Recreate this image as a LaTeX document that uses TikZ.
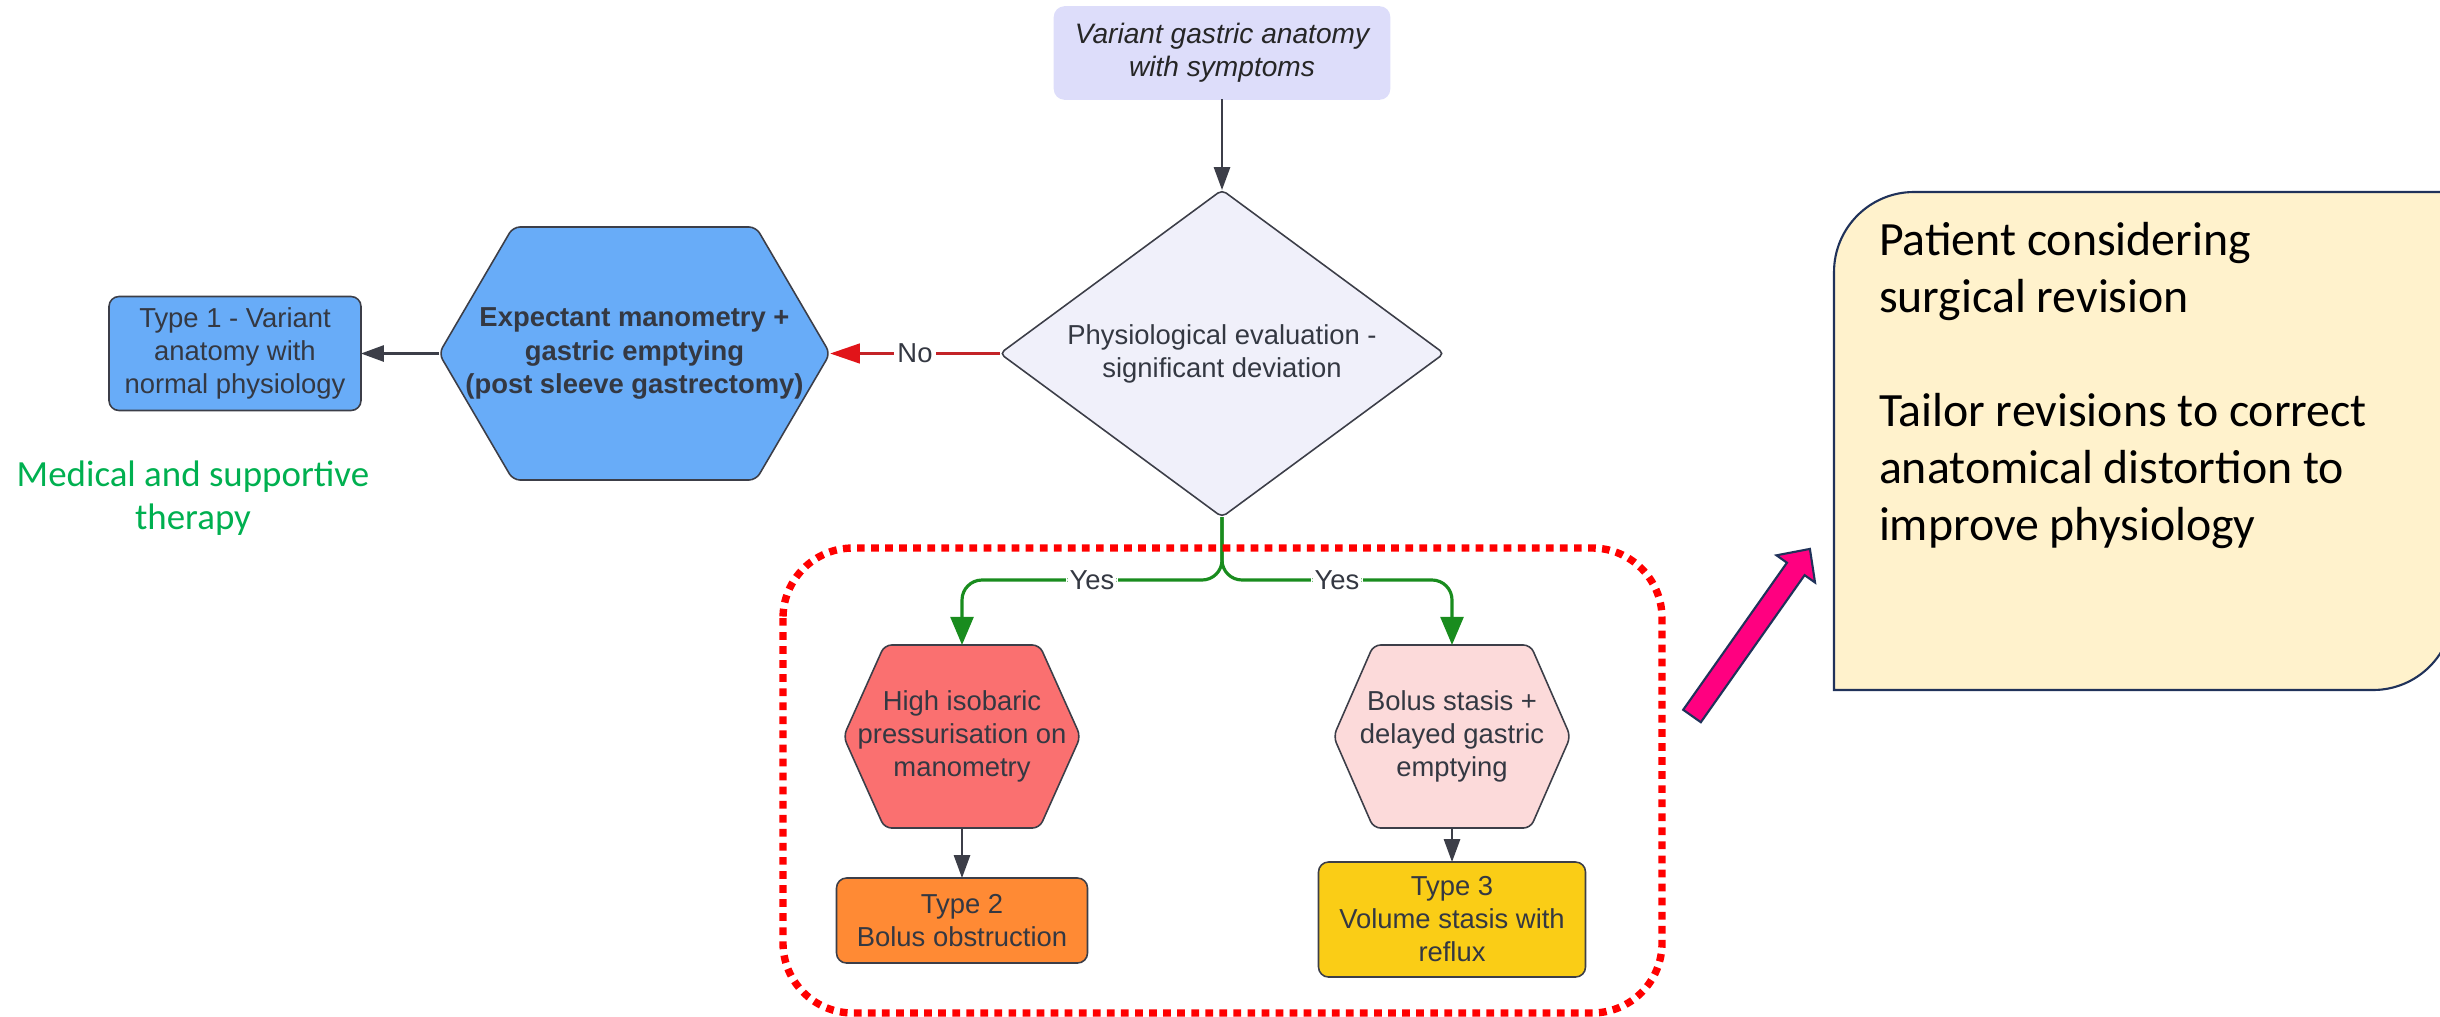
\documentclass[tikz,border=0pt]{standalone}
\usepackage{fontspec}
\setmainfont{Liberation Sans}
\newfontfamily\calibri{Carlito}
\usepackage{tikz}
\usetikzlibrary{arrows.meta, shapes.geometric, positioning, calc, backgrounds}

\definecolor{boxline}{RGB}{60,62,72}
\definecolor{txtgray}{RGB}{52,56,66}
\definecolor{startfill}{RGB}{221,221,250}
\definecolor{decfill}{RGB}{240,240,250}
\definecolor{bluefill}{RGB}{104,172,248}
\definecolor{redfill}{RGB}{250,112,112}
\definecolor{pinkfill}{RGB}{252,218,218}
\definecolor{orangefill}{RGB}{255,138,52}
\definecolor{yellowfill}{RGB}{250,205,22}
\definecolor{yesgreen}{RGB}{25,140,30}
\definecolor{nored}{RGB}{195,35,40}
\definecolor{notip}{RGB}{225,20,25}
\definecolor{therapygreen}{RGB}{0,176,80}
\definecolor{notefill}{RGB}{255,242,204}
\definecolor{noteline}{RGB}{32,50,90}
\definecolor{bigpink}{RGB}{255,0,128}

% hexagon drawn round a node: node, chamfer, fill
\newcommand{\hexshape}[3]{%
  \filldraw[fill=#3, draw=boxline, line width=0.45pt, rounded corners=2pt]
    (#1.west) -- ($(#1.north west)+(#2,0)$) -- ($(#1.north east)+(-#2,0)$) -- (#1.east)
    -- ($(#1.south east)+(-#2,0)$) -- ($(#1.south west)+(#2,0)$) -- cycle;}

\begin{document}
\begin{tikzpicture}[
    every node/.style={font=\fontsize{7.8}{9.4}\selectfont, text=txtgray, outer sep=0pt},
    flowbox/.style={draw=boxline, line width=0.45pt, rounded corners=0.1cm, align=center, inner sep=0pt},
    hexbox/.style={align=center, inner sep=0pt},
    decision/.style={diamond, aspect=1.36, draw=boxline, line width=0.45pt, rounded corners=0.05cm, fill=decfill, align=center, inner sep=0pt},
    darkarrow/.style={draw=boxline, line width=0.6pt, -{Triangle[length=6.5pt,width=4.6pt]}},
    yesarrow/.style={draw=yesgreen, line width=0.9pt, rounded corners=0.2cm, -{Triangle[length=8pt,width=6.5pt]}},
    noarrow/.style={draw=nored, line width=1pt, -{Triangle[length=8.5pt,width=5.5pt,color=notip]}},
    branchlabel/.style={fill=white, inner sep=1pt},
    groupframe/.style={draw=red, line width=2.1pt, dash pattern=on 2.2pt off 1.8pt, rounded corners=0.7cm},
  ]

            % Page frame
            \useasboundingbox (0,0) rectangle (24.4,-10.16);

            % Start box
            \node[flowbox, fill=startfill, draw=startfill, minimum width=3.35cm, minimum height=0.92cm, text=black!85, font=\fontsize{8}{9.4}\selectfont\itshape] (start) at (12.22,-0.53) {Variant gastric anatomy\\with symptoms};

            % Decision
            \node[decision, minimum width=4.44cm, minimum height=3.27cm, below=0.91cm of start] (eval) {Physiological evaluation -\\significant deviation};

            % No branch
            \node[hexbox, minimum width=3.91cm, minimum height=2.53cm, font=\fontsize{7.8}{9.4}\selectfont\bfseries, left=1.70cm of eval] (expect) {Expectant manometry +\\gastric emptying\\(post sleeve gastrectomy)};
            \node[flowbox, fill=bluefill, minimum width=2.52cm, minimum height=1.14cm, left=0.78cm of expect] (type1) {Type 1 - Variant\\anatomy with\\normal physiology};
            \node[font=\calibri\fontsize{10.5}{12.2}\selectfont, text=therapygreen, align=center] (therapy) at (1.93,-4.98) {Medical and supportive\\therapy};

            % Yes branches
            \node[hexbox, minimum width=2.37cm, minimum height=1.83cm] (high) at (9.62,-7.365) {High isobaric\\pressurisation on\\manometry};
            \node[hexbox, minimum width=2.37cm, minimum height=1.83cm] (bolus) at (14.52,-7.365) {Bolus stasis +\\delayed gastric\\emptying};
            \node[flowbox, fill=orangefill, minimum width=2.51cm, minimum height=0.85cm, below=0.50cm of high] (type2) {Type 2\\Bolus obstruction};
            \node[flowbox, fill=yellowfill, minimum width=2.67cm, minimum height=1.15cm, below=0.34cm of bolus] (type3) {Type 3\\Volume stasis with\\reflux};

            % Hexagon outlines
            \begin{scope}[on background layer]
            \hexshape{expect}{0.74}{bluefill}
            \hexshape{high}{0.41}{redfill}
            \hexshape{bolus}{0.40}{pinkfill}
            \end{scope}

            % Connectors
            \coordinate (split) at ($(eval.south)+(0,-0.63)$);
            \draw[darkarrow] (start) -- (eval);
            \draw[noarrow] (eval.west) -- node[branchlabel] {No} (expect.east);
            \draw[darkarrow] (expect.west) -- (type1.east);
            \draw[yesarrow] (eval.south) -- (split) -| node[branchlabel, pos=0.25] {Yes} (high.north);
            \draw[yesarrow] (eval.south) -- (split) -| node[branchlabel, pos=0.25] {Yes} (bolus.north);
            \draw[darkarrow] (high) -- (type2);
            \draw[darkarrow] (bolus) -- (type3);

            % Dotted group frame
            \draw[groupframe] (7.83,-5.48) rectangle (16.62,-10.13);

            % Pink arrow
            \begin{scope}[shift={(16.92,-7.16)}, rotate=54.8]
            \filldraw[fill=bigpink, draw=noteline, line width=0.6pt] (0,-0.108) -- (1.80,-0.108) -- (1.80,-0.236) -- (2.045,0) -- (1.80,0.236) -- (1.80,0.108) -- (0,0.108) -- cycle;
            \end{scope}

            % Revision note
            \filldraw[fill=notefill, draw=noteline, line width=0.6pt] (18.34,-6.90) -- (18.34,-2.72) arc[start angle=180, end angle=90, radius=0.8] -- (24.53,-1.92) -- (24.53,-6.10) arc[start angle=0, end angle=-90, radius=0.8] -- cycle;
            \node[font=\calibri\fontsize{13.6}{16.2}\selectfont, text=black, align=left, inner sep=0pt, anchor=base west] (revnote) at (18.79,-5.40) {Patient considering\\surgical revision\\[16.2pt]Tailor revisions to correct\\anatomical distortion to\\improve physiology};

\end{tikzpicture}
\end{document}
